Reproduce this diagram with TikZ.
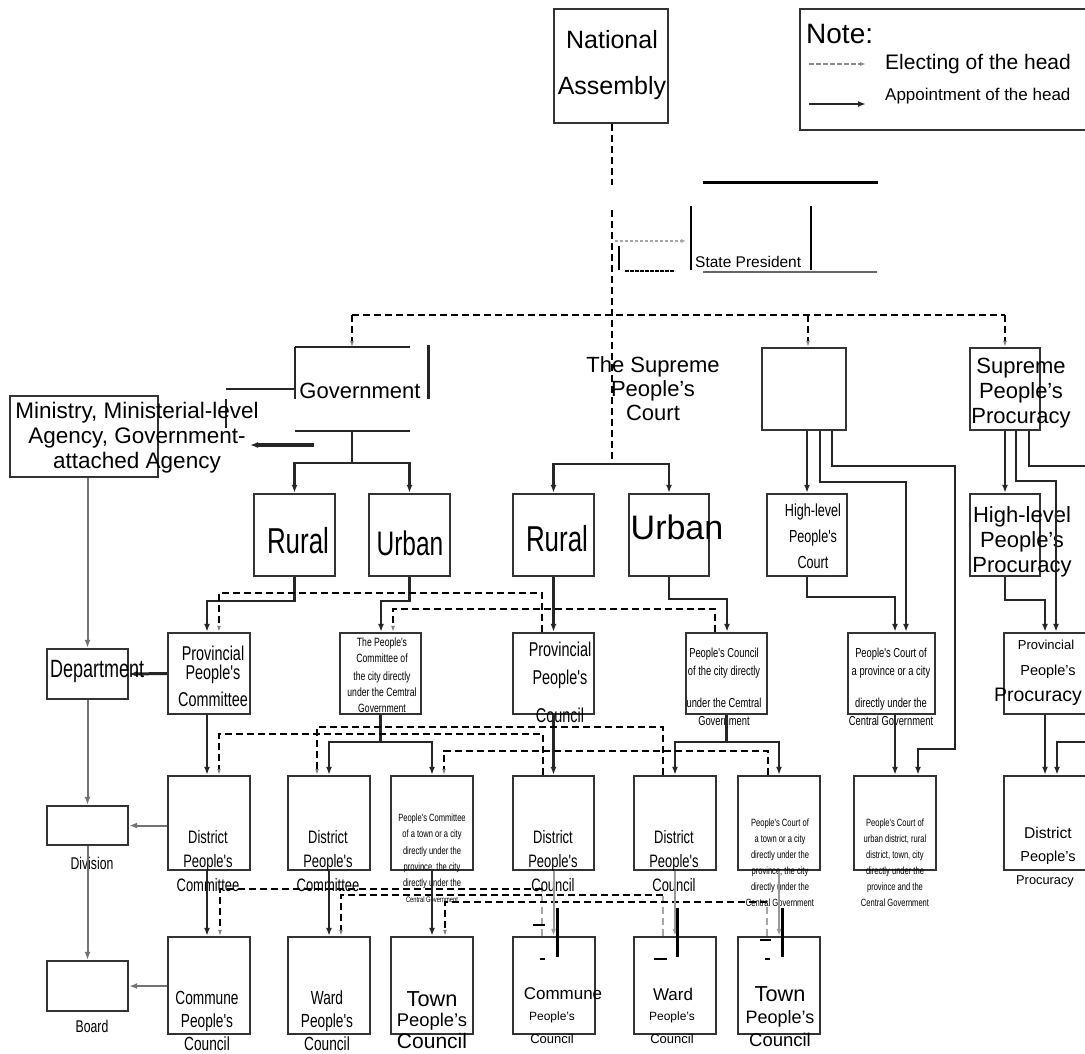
\documentclass[tikz,border=0pt]{standalone}
\usepackage{fontspec}
\setmainfont{Liberation Sans}
\newfontfamily\narrowfont[FakeStretch=0.72]{Liberation Sans}
\usepackage{tikz}
\usetikzlibrary{arrows.meta, calc}

\begin{document}
\begin{tikzpicture}[x=1pt, y=-1pt,
    box/.style={draw=black!80, line width=2.4pt, inner sep=0pt},
    link/.style={draw=black!85, line width=2.2pt},
    appt/.style={link, -{Latex[length=8pt, width=6pt]}},
    fade/.style={draw=black!40, line width=2pt, -{Latex[length=7pt, width=5pt]}},
    staff/.style={draw=black!55, line width=2pt, -{Latex[length=8pt, width=6pt]}},
    elect/.style={draw=black, line width=2.2pt, dash pattern=on 7pt off 4pt},
    etip/.style={-{Latex[open, length=6pt, width=4pt, line width=1pt, color=black!50]}},
    reg/.style 2 args={inner sep=0pt, align=center, font=\fontsize{#1}{#2}\selectfont},
    nar/.style 2 args={inner sep=0pt, align=center, font=\narrowfont\fontsize{#1}{#2}\selectfont}]
    \useasboundingbox (0,0) rectangle (1085,1053);

    % 1. Top: National Assembly, note, State President
    \node[box, minimum width=114pt, minimum height=114pt] (natAs) at (611,66) {};
    \node[reg={25}{46}] at (612,65) {National\\Assembly};
    \node[box, minimum width=300pt, minimum height=121pt] (note) at (950,69.5) {};
    \node[reg={28}{28}, anchor=west] at (806,34) {Note:};
    \node[reg={21}{21}, anchor=west] at (885,64) {Electing of the head};
    \node[reg={17}{17}, anchor=west] at (885,96) {Appointment of the head};
    \coordinate (lgA) at (809,64); \coordinate (lgB) at (866,64);
    \coordinate (lgC) at (809,104); \coordinate (lgD) at (866,104);
    \draw[black!45, line width=1.8pt, dash pattern=on 5pt off 2pt, -{Latex[length=6pt, width=4pt]}] (lgA) -- (lgB);
    \draw[black!85, line width=1.8pt, -{Latex[length=8pt, width=6pt]}] (lgC) -- (lgD);

    \draw[line width=3pt] (703,182) -- (878,182);
    \draw[line width=2pt] (691,206) -- (691,270);
    \draw[line width=2pt] (811,206) -- (811,270);
    \draw[line width=1.2pt, black!60] (703,272) -- (877,272);
    \node[reg={15.5}{15.5}, anchor=west] (presT) at (695,262) {State President};
    \draw[black!35, line width=1.5pt, dash pattern=on 3pt off 2pt, -{Latex[length=5pt, width=4pt]}] (615,241) -- (686,241);
    \draw[line width=1.5pt] (619,246) -- (619,270);
    \draw[line width=2.2pt, dash pattern=on 4pt off 1pt] (625,271) -- (675,271);

    % 2. Electing line from the National Assembly
    \coordinate (naA) at (612,185);
    \coordinate (naB) at (612,210);
    \coordinate (ctJ) at (612,464);
    \coordinate (eL) at (352,315);
    \coordinate (eM) at (808,315);
    \coordinate (eR) at (1005,315);
    \coordinate (govTop) at (352,347);
    \draw[elect] (natAs.south -| naA) -- (naA);
    \draw[elect] (naB) -- (ctJ);
    \draw[elect] (eL) -- (eR);

    % 3. Government, Court, Procuracy level
    \draw[link] (295,347) -- (410,347);
    \draw[link] (295,347) -- (295,399);
    \draw[link, line width=3pt] (428,345) -- (428,399);
    \draw[link] (226,389) -- (295,389);
    \draw[link] (226,399) -- (226,428);
    \draw[link] (295,431) -- (410,431);
    \node[reg={22}{22}] (gov) at (360,391) {Government};

    \node[box, minimum width=148pt, minimum height=81pt] (ministry) at (84,436.5) {};
    \node[reg={22.5}{25}] at (137,438) {Ministry, Ministerial-level\\Agency, Government-\\attached Agency};

    \node[reg={22}{24}] (supCt) at (653,389) {The Supreme\\People's\\Court};
    \node[box, minimum width=84pt, minimum height=82pt] (blankCt) at (804,389) {};
    \node[box, minimum width=70pt, minimum height=82pt] (supProc) at (1005,389) {};
    \node[reg={22}{25}] at (1021,393) {Supreme\\People's\\Procuracy};

    \draw[elect, etip] (eL) -- (govTop);
    \draw[elect, etip] (eM) -- (eM |- blankCt.north);
    \draw[elect, etip] (eR) -- (supProc.north);

    % 4. Rural / Urban level
    \node[box, minimum width=81pt, minimum height=82pt] (rurG) at (294.5,535) {};
    \node[box, minimum width=81pt, minimum height=82pt] (urbG) at (409.5,535) {};
    \node[box, minimum width=81pt, minimum height=82pt] (rurC) at (553.5,535) {};
    \node[box, minimum width=80pt, minimum height=82pt] (urbC) at (669,535) {};
    \node[box, minimum width=80pt, minimum height=82pt] (hlCourt) at (807,535) {};
    \node[box, minimum width=70pt, minimum height=82pt] (hlProc) at (1005,535) {};
    \node[nar={36}{36}] at (298,541) {Rural};
    \node[nar={34}{34}] at (410,543) {Urban};
    \node[nar={36}{36}] at (557,539) {Rural};
    \node[reg={34}{34}] at (677,527) {Urban};
    \node[nar={17.5}{26}] at (813,536) {High-level\\People's\\Court};
    \node[reg={22}{25}] at (1022,542) {High-level\\People's\\Procuracy};

    \coordinate (govB) at (352,431);
    \coordinate (govJ) at (352,463);
    \draw[link] (govB) -- (govJ);
    \draw[appt] (govJ) -| (rurG.north);
    \draw[appt] (govJ) -| (urbG.north);
    \coordinate (govL) at (314,445);
    \coordinate (minR) at (250,445);
    \draw[appt, line width=3.5pt] (govL) -- (minR);
    \draw[appt] (ctJ) -| (rurC.north);
    \draw[appt] (ctJ) -| (urbC.north);

    \coordinate (b2a) at (820,482); \coordinate (b2b) at (906,482);
    \coordinate (b3a) at (832,466); \coordinate (b3b) at (955,749); \coordinate (b3c) at (918,749);
    \draw[appt] (hlCourt.north |- blankCt.south) -- (hlCourt.north);
    \coordinate (s2a) at (1016,481); \coordinate (s2b) at (1056,481);
    \coordinate (s3a) at (1029,466); \coordinate (s3b) at (1090,466);
    \draw[appt] (supProc.south) -- (hlProc.north);
    \draw[link] (s3a |- supProc.south) -- (s3a) -- (s3b);

    % 5. Provincial level
    \node[box, minimum width=81pt, minimum height=50pt] (dept) at (87.5,674) {};
    \node[box, minimum width=82pt, minimum height=81pt] (provCom) at (209,673.5) {};
    \node[box, minimum width=81pt, minimum height=81pt] (cityCom) at (380.5,673.5) {};
    \node[box, minimum width=81pt, minimum height=81pt] (provCou) at (553.5,673.5) {};
    \node[box, minimum width=81pt, minimum height=81pt] (cityCou) at (726.5,673.5) {};
    \node[box, minimum width=87pt, minimum height=81pt] (provCourt) at (891.5,673.5) {};
    \node[box, minimum width=96pt, minimum height=81pt] (provProc) at (1052,673.5) {};

    \draw[appt, line width=3pt] (provCom.west) -- (dept.east);
    \node[nar={25}{25}, anchor=west] at (50,671) {Department};
    \node[nar={20}{19}] at (213,676) {Provincial\\People's\\[8pt]Committee};
    \node[nar={12}{16}] at (382,675) {The People's\\Committee of\\[2pt]the city directly\\under the Cemtral\\Government};
    \node[nar={20}{20}] at (560,682) {Provincial\\[8pt]People's\\[18pt]Council};
    \node[nar={13}{18}] at (724,687) {People's Council\\of the city directly\\[14pt]under the Cemtral\\Government};
    \node[nar={13}{18}] at (891,687) {People's Court of\\a province or a city\\[14pt]directly under the\\Central Government};
    \node[reg={13}{13}] at (1046,645) {Provincial};
    \node[reg={14.5}{14.5}] at (1048,672) {People's};
    \node[reg={19.5}{19.5}] at (1038,697) {Procuracy};

    \coordinate (g1a) at (294.5,601); \coordinate (g1b) at (207,601);
    \coordinate (g2) at (381,601);
    \coordinate (c2) at (727,599);
    \draw[appt] (rurG.south) -- (g1a) -- (g1b) -- (g1b |- provCom.north);
    \draw[appt] (urbG.south) |- (g2) -- (g2 |- cityCom.north);
    \draw[appt] (rurC.south) -- (provCou.north);
    \draw[appt] (urbC.south) |- (c2) -- (c2 |- cityCou.north);
    \draw[appt] (b2a |- blankCt.south) -- (b2a) -- (b2b) -- (b2b |- provCourt.north);
    \coordinate (h1) at (895,597);
    \draw[appt] (hlCourt.south) |- (h1) -- (h1 |- provCourt.north);
    \coordinate (h2) at (1045,600);
    \draw[appt] (s2a |- supProc.south) -- (s2a) -- (s2b) -- (s2b |- provProc.north);
    \draw[appt] (hlProc.south) |- (h2) -- (h2 |- provProc.north);

    \coordinate (d1a) at (542,593); \coordinate (d1b) at (219,593);
    \coordinate (d2a) at (715,609); \coordinate (d2b) at (393,609);
    \draw[elect, etip] (d1a |- provCou.north) -- (d1a) -- (d1b) -- (d1b |- provCom.north);
    \draw[elect, etip] (d2a |- cityCou.north) -- (d2a) -- (d2b) -- (d2b |- cityCom.north);

    % 6. District level
    \node[box, minimum width=81pt, minimum height=39pt] (division) at (87.5,825.5) {};
    \node[box, minimum width=82pt, minimum height=94pt] (distCom1) at (209,823) {};
    \node[box, minimum width=82pt, minimum height=94pt] (distCom2) at (329,823) {};
    \node[box, minimum width=82pt, minimum height=94pt] (townCom) at (432,823) {};
    \node[box, minimum width=81pt, minimum height=94pt] (distCou1) at (553.5,823) {};
    \node[box, minimum width=82pt, minimum height=94pt] (distCou2) at (675,823) {};
    \node[box, minimum width=82pt, minimum height=94pt] (townCt) at (779,823) {};
    \node[box, minimum width=82pt, minimum height=94pt] (urbCt) at (895,823) {};
    \node[box, minimum width=96pt, minimum height=94pt] (distProc) at (1052,823) {};

    \node[nar={17}{17}] at (92,863) {Division};
    \node[nar={10.5}{16.2}] at (432,858.5) {People's Committee\\of a town or a city\\directly under the\\province, the city\\directly under the\\{\fontsize{8}{8}\selectfont Central Government}};
    \node[nar={10.5}{16}] at (780,863) {People's Court of\\a town or a city\\directly under the\\province, the city\\directly under the\\Central Government};
    \node[nar={10.5}{16}] at (895,863) {People's Court of\\urban district, rural\\district, town, city\\directly under the\\province and the\\Central Government};
    \node[reg={15.6}{15.6}] at (1048,833) {District};
    \node[reg={14.5}{14.5}] at (1048,858) {People's};
    \node[reg={12.8}{12.8}] at (1045,881) {Procuracy};

    \draw[appt] (g1b |- provCom.south) -- (g1b |- distCom1.north);
    \coordinate (r2) at (380.5,742);
    \draw[link] (cityCom.south) -- (r2);
    \draw[appt] (r2) -| (distCom2.north);
    \draw[appt] (r2) -| (townCom.north);
    \draw[appt] (provCou.south) -- (distCou1.north);
    \coordinate (r4) at (726.5,742);
    \draw[link] (cityCou.south) -- (r4);
    \draw[appt] (r4) -| (distCou2.north);
    \draw[appt] (r4) -| (townCt.north);
    \draw[appt] (b3a |- blankCt.south) -- (b3a) -| (b3b) -- (b3c) -- (b3c |- urbCt.north);
    \draw[appt] (h1 |- provCourt.south) -- (h1 |- urbCt.north);
    \draw[appt] (h2 |- provProc.south) -- (h2 |- distProc.north);
    \coordinate (p3a) at (1090,742); \coordinate (p3b) at (1057,742);
    \draw[appt] (p3a) -- (p3b) -- (p3b |- distProc.north);

    \coordinate (d3a) at (543,734); \coordinate (d3b) at (219,734);
    \coordinate (d4a) at (663,727); \coordinate (d4b) at (317,727);
    \coordinate (d5a) at (768,751); \coordinate (d5b) at (444,751);
    \draw[elect, etip] (d4a |- distCou2.north) -- (d4a) -- (d4b) -- (d4b |- distCom2.north);
    \draw[elect, etip] (d3a |- distCou1.north) -- (d3a) -- (d3b) -- (d3b |- distCom1.north);
    \draw[elect, etip] (d5a |- townCt.north) -- (d5a) -- (d5b) -- (d5b |- townCom.north);

    % 7. Commune level
    \node[box, minimum width=81pt, minimum height=50pt] (board) at (87.5,986) {};
    \node[box, minimum width=82pt, minimum height=97pt] (commune1) at (209,985.5) {};
    \node[box, minimum width=82pt, minimum height=97pt] (ward1) at (329,985.5) {};
    \node[box, minimum width=82pt, minimum height=97pt] (town1) at (432,985.5) {};
    \node[box, minimum width=82pt, minimum height=97pt] (commune2) at (554,985.5) {};
    \node[box, minimum width=82pt, minimum height=97pt] (ward2) at (675,985.5) {};
    \node[box, minimum width=82pt, minimum height=97pt] (town2) at (779,985.5) {};
    \node[nar={17}{17}] at (92,1026) {Board};

    \coordinate (d6a) at (542,889); \coordinate (d6b) at (220,889);
    \coordinate (d7a) at (663,895); \coordinate (d7b) at (341,895);
    \coordinate (d8a) at (767,902); \coordinate (d8b) at (445,902);
    \draw[elect, black!35] (d6a |- commune2.north) -- (d6a);
    \draw[elect, black!35] (d7a |- ward2.north) -- (d7a);
    \draw[elect, black!35] (d8a |- town2.north) -- (d8a);
    \draw[elect, etip] (d6a) -- (d6b) -- (d6b |- commune1.north);
    \draw[elect, etip] (d7a) -- (d7b) -- (d7b |- ward1.north);
    \draw[elect, etip] (d8a) -- (d8b) -- (d8b |- town1.north);

    \node[nar={18}{24}] at (208,861.5) {District\\People's\\Committee};
    \node[nar={18}{24}] at (328,861.5) {District\\People's\\Committee};
    \node[nar={18}{24}] at (553,861.5) {District\\People's\\Council};
    \node[nar={18}{24}] at (674,861.5) {District\\People's\\Council};

    \draw[appt] (g1b |- distCom1.south) -- (g1b |- commune1.north);
    \draw[appt] (distCom2.south) -- (ward1.north);
    \draw[appt] (townCom.south) -- (town1.north);
    \draw[fade] (distCou1.south) -- (distCou1.south |- commune2.north);
    \draw[fade] (distCou2.south) -- (ward2.north);
    \draw[fade] (townCt.south) -- (town2.north);

    \draw[line width=3pt] (557,908) -- (557,957);
    \draw[line width=3pt] (677,908) -- (677,957);
    \draw[line width=3pt] (782,908) -- (782,957);
    \draw[line width=2.5pt] (533,925) -- (545,925);
    \draw[line width=2.5pt] (540,959) -- (545,959);
    \draw[line width=2.5pt] (654,959) -- (667,959);
    \draw[line width=2.5pt] (760,940) -- (771,940);
    \draw[line width=2.5pt] (765,959) -- (770,959);

    \node[nar={19}{23}] at (207,1021) {Commune\\People's\\Council};
    \node[nar={19}{23}] at (327,1021) {Ward\\People's\\Council};
    \node[reg={21.7}{21.7}] at (432,999) {Town};
    \node[reg={18.4}{18.4}] at (432,1022) {People's};
    \node[reg={21}{21}] at (432,1041) {Council};
    \node[reg={17}{17}] at (563,994) {Commune};
    \node[reg={12}{12}] at (552,1017) {People's};
    \node[reg={13}{13}] at (552,1039) {Council};
    \node[reg={17}{17}] at (673,994) {Ward};
    \node[reg={12}{12}] at (672,1017) {People's};
    \node[reg={13}{13}] at (672,1039) {Council};
    \node[reg={21.7}{21.7}] at (780,994) {Town};
    \node[reg={18}{18}] at (780,1019) {People's};
    \node[reg={18.5}{18.5}] at (780,1040) {Council};

    % 8. Left column (ministry branch)
    \draw[staff] (ministry.south -| dept.north) -- (dept.north);
    \draw[staff] (dept.south) -- (division.north);
    \draw[staff] (division.south) -- (board.north);
    \draw[staff] (division.east -| distCom1.west) -- (division.east);
    \draw[staff] (board.east -| commune1.west) -- (board.east);
\end{tikzpicture}
\end{document}
